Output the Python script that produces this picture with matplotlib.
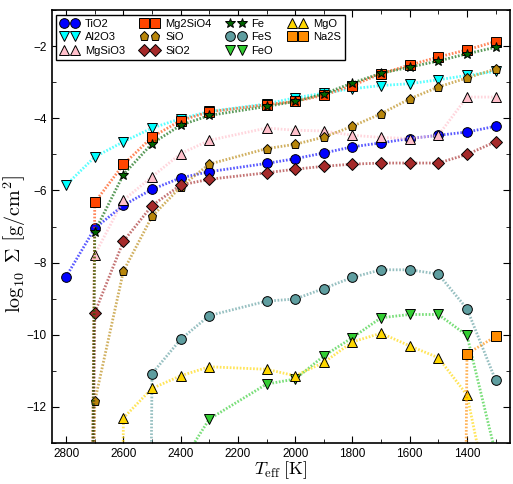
import numpy as np
import matplotlib
matplotlib.use('Agg')
import matplotlib.pyplot as plt
from matplotlib.ticker import MultipleLocator

plt.rcParams['font.family'] = ['Liberation Sans', 'DejaVu Sans']
plt.rcParams['mathtext.fontset'] = 'cm'

# effective temperatures (no model at 2200 K)
teff = [2800, 2700, 2600, 2500, 2400, 2300, 2100, 2000, 1900, 1800, 1700, 1600, 1500, 1400, 1300]

# log10 surface density of each condensate; -100 = essentially nothing, nan = not drawn
LOW = -100.0
nan = np.nan
tio2 = [-8.39, -7.05, -6.41, -5.97, -5.65, -5.48, -5.25, -5.12, -4.96, -4.79, -4.68, -4.56, -4.47, -4.38, -4.22]
al2o3 = [-5.85, -5.07, -4.65, -4.27, -4.01, -3.81, -3.60, -3.43, -3.30, -3.18, -3.09, -3.04, -2.93, -2.81, -2.70]
mgsio3 = [LOW, -7.78, -6.27, -5.62, -4.98, -4.61, -4.27, -4.33, -4.35, -4.47, -4.53, -4.56, -4.47, -3.41, -3.41]
mg2sio4 = [LOW, -6.33, -5.28, -4.52, -4.06, -3.82, -3.62, -3.53, -3.36, -3.09, -2.76, -2.52, -2.30, -2.10, -1.87]
sio = [LOW, -11.85, -8.24, -6.72, -5.90, -5.27, -4.84, -4.72, -4.52, -4.22, -3.87, -3.46, -3.13, -2.88, -2.63]
sio2 = [LOW, -9.39, -7.41, -6.42, -5.85, -5.69, -5.51, -5.41, -5.33, -5.27, -5.24, -5.24, -5.24, -5.00, -4.65]
fe = [LOW, -7.14, -5.56, -4.70, -4.19, -3.92, -3.67, -3.53, -3.32, -3.02, -2.75, -2.58, -2.41, -2.21, -2.03]
fes = [nan, nan, LOW, -11.08, -10.13, -9.47, -9.07, -9.01, -8.72, -8.41, -8.20, -8.20, -8.32, -9.28, -11.26]
feo = [nan, nan, nan, nan, -13.6, -12.34, -11.37, -11.23, -10.59, -10.08, -9.53, -9.44, -9.44, -10.02, -13.3]
mgo = [nan, LOW, -12.31, -11.49, -11.14, -10.89, -10.96, -11.14, -10.77, -10.20, -9.96, -10.31, -10.64, -11.67, -15.5]
na2s = [nan, nan, nan, nan, nan, nan, nan, nan, nan, nan, nan, nan, LOW, -10.53, -10.05]

species = ['TiO2', 'Al2O3', 'MgSiO3', 'Mg2SiO4', 'SiO', 'SiO2', 'Fe', 'FeS', 'FeO', 'MgO', 'Na2S']
values = [tio2, al2o3, mgsio3, mg2sio4, sio, sio2, fe, fes, feo, mgo, na2s]
colors = ['blue', 'cyan', 'pink', 'orangered', 'darkgoldenrod', 'brown', 'darkgreen',
          'cadetblue', 'limegreen', 'gold', 'darkorange']
markers = ['o', 'v', '^', 's', 'p', 'D', '*', 'o', 'v', '^', 's']
msizes = [7, 7.5, 7.5, 7, 6.5, 6.5, 7.5, 7, 7.5, 7.5, 7]

fig = plt.figure(figsize=(5.13, 4.84), dpi=100)
ax = fig.add_axes([0.101, 0.085, 0.893, 0.894])

for name, vals, c, m, ms in zip(species, values, colors, markers, msizes):
    ax.plot(teff, vals, ls=(0, (0.6, 0.6)), color=c, lw=2, alpha=0.65)
    ax.plot(teff, vals, m, color=c, ms=ms, mec='black', mew=0.7, label=name)

ax.set_xlim(2850, 1250)
ax.set_ylim(-13, -1)
ax.xaxis.set_major_locator(MultipleLocator(200))
ax.xaxis.set_minor_locator(MultipleLocator(100))
ax.yaxis.set_major_locator(MultipleLocator(2))
ax.yaxis.set_minor_locator(MultipleLocator(1))
ax.tick_params(which='both', direction='in', top=True, right=True, labelsize=8.5)
ax.tick_params(which='major', length=5)
ax.tick_params(which='minor', length=3)
for s in ax.spines.values():
    s.set_linewidth(1.2)

ax.set_xlabel(r'$T_{\rm eff}\;[\rm K]$', fontsize=13, labelpad=0)
ax.set_ylabel(r'$\log_{10}\ \Sigma\ \left[\rm g/cm^2\right]$', fontsize=14.5)
ax.yaxis.set_label_coords(-0.052, 0.46)

leg = ax.legend(loc='upper left', ncol=4, numpoints=2, fontsize=8, handlelength=1.6,
                handletextpad=0.6, columnspacing=1.4, labelspacing=0.3,
                borderaxespad=0.4, fancybox=False, framealpha=1)
leg.get_frame().set_edgecolor('black')
leg.get_frame().set_linewidth(1.0)

fig.savefig('out.png', dpi=100)
